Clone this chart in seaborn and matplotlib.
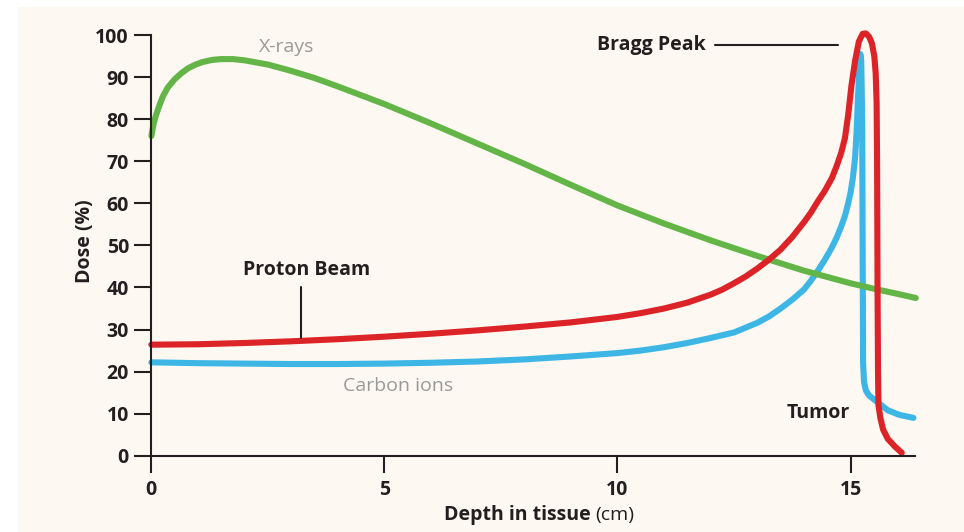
import pandas as pd
import matplotlib.pyplot as plt
import matplotlib.patches as mpatches
import seaborn as sns

# depth (cm) / dose (%)
xray_depth = [0, 0.05, 0.1, 0.18, 0.25, 0.35, 0.5, 0.65, 0.8, 0.95, 1.1, 1.3, 1.5, 1.75, 2.0,
              2.5, 3.0, 3.5, 4.0, 5.0, 6.0, 7.0, 8.0, 9.0, 10.0, 11.0, 12.0, 13.0, 14.0, 15.0,
              15.5, 16.0, 16.4]
xray_dose = [76, 79, 81, 83.5, 85.5, 87.5, 89.5, 91.0, 92.2, 93.0, 93.6, 94.1, 94.3, 94.3, 94.0,
             93.0, 91.5, 89.8, 87.8, 83.6, 79.0, 74.2, 69.4, 64.4, 59.5, 55.2, 51.2, 47.5, 44.0,
             41.0, 39.7, 38.5, 37.5]

proton_depth = [0, 1, 2, 3, 4, 5, 6, 7, 8, 9, 10, 10.5, 11, 11.5, 12, 12.25, 12.5, 12.75, 13,
                13.25, 13.5, 13.75, 14, 14.15, 14.3, 14.45, 14.6, 14.7, 14.8, 14.88, 14.95,
                15.02, 15.1, 15.18, 15.26, 15.33, 15.4, 15.46, 15.51, 15.54, 15.56, 15.57,
                15.58, 15.59, 15.6, 15.64, 15.7, 15.8, 15.95, 16.1]
proton_dose = [26.4, 26.5, 26.8, 27.2, 27.7, 28.3, 29.0, 29.8, 30.7, 31.7, 33.0, 33.9, 35.0, 36.4,
               38.3, 39.5, 41.0, 42.6, 44.5, 46.6, 49.0, 52.0, 55.5, 57.8, 60.5, 63.0, 66.0,
               68.8, 72.0, 75.5, 81.0, 88.0, 94.0, 98.5, 100.3, 100.4, 99.6, 98.0, 95.0, 91.0,
               84.0, 70.0, 40.0, 20.0, 12.0, 9.0, 6.2, 4.0, 2.2, 0.7]

carbon_depth = [0, 1, 2, 3, 4, 5, 6, 7, 8, 9, 10, 10.5, 11, 11.5, 12, 12.5, 13, 13.25, 13.5,
                13.75, 14, 14.15, 14.3, 14.45, 14.6, 14.7, 14.8, 14.88, 14.95, 15.0, 15.05,
                15.1, 15.13, 15.16, 15.19, 15.21, 15.23, 15.25, 15.26, 15.27, 15.29, 15.33,
                15.4, 15.57, 15.8, 16.05, 16.35]
carbon_dose = [22.2, 22.0, 21.9, 21.8, 21.8, 21.9, 22.1, 22.4, 22.9, 23.6, 24.4, 25.0, 25.8, 26.8,
               28.0, 29.3, 31.6, 33.1, 35.0, 37.1, 39.5, 41.6, 44.0, 46.6, 49.5, 51.8, 54.5,
               57.0, 60.0, 62.5, 66.0, 71.0, 77.0, 85.0, 92.0, 95.5, 94.0, 80.0, 50.0, 22.0,
               17.5, 15.5, 14.3, 12.8, 10.8, 9.7, 9.0]

x_ticks = [0, 5, 10, 15]
y_ticks = [0, 10, 20, 30, 40, 50, 60, 70, 80, 90, 100]

GREEN = '#64B547'
RED = '#DC2327'
BLUE = '#3DB6E6'
INK = '#231F20'
GREY = '#999999'
CREAM = '#FDF9F2'
FS = 14

sns.set_style('ticks')
plt.rcParams['font.family'] = ['Open Sans', 'DejaVu Sans']

fig = plt.figure(figsize=(9.64, 5.32), dpi=100)
fig.patch.set_facecolor('white')
fig.patches.append(mpatches.Rectangle((18 / 964, 0), 1, 1 - 7 / 532, transform=fig.transFigure,
                                      facecolor=CREAM, edgecolor='none', zorder=-10))
ax = fig.add_axes([0.157, 0.1434, 0.949 - 0.157, 0.934 - 0.1434])
ax.set_facecolor('none')

curves = [(carbon_depth, carbon_dose, BLUE), (xray_depth, xray_dose, GREEN),
          (proton_depth, proton_dose, RED)]
for depth, dose, col in curves:
    d = pd.DataFrame({'depth': depth, 'dose': dose})
    sns.lineplot(data=d, x='depth', y='dose', sort=False, estimator=None, color=col,
                 linewidth=4.4, ax=ax, clip_on=False, solid_capstyle='round',
                 solid_joinstyle='round')

ax.set_xlim(0, 16.38)
ax.set_ylim(0, 100)
ax.set_xticks(x_ticks)
ax.set_yticks(y_ticks)
ax.set_xticklabels([str(t) for t in x_ticks], fontsize=FS, fontweight='bold', color=INK)
ax.set_yticklabels([str(t) for t in y_ticks], fontsize=FS, fontweight='bold', color=INK)
ax.tick_params(axis='y', length=12.5, width=1.5, pad=3.6, color=INK)
ax.tick_params(axis='x', length=12.5, width=1.5, pad=5, color=INK)
for s in ['left', 'bottom']:
    ax.spines[s].set_linewidth(1.5)
    ax.spines[s].set_color(INK)
sns.despine(ax=ax)
ax.set_xlabel('')
ax.set_ylabel('')

# labels on the curves
ax.text(2.9, 97.2, 'X-rays', color=GREY, fontsize=FS, ha='center', va='center')
ax.text(5.29, 16.5, 'Carbon ions', color=GREY, fontsize=FS, ha='center', va='center')
ax.text(3.33, 44.2, 'Proton Beam', color=INK, fontsize=FS, fontweight='bold',
        ha='center', va='center')
ax.plot([3.22, 3.22], [28.0, 40.2], color=INK, lw=1.5)
ax.text(9.56, 97.6, 'Bragg Peak', color=INK, fontsize=FS, fontweight='bold',
        ha='left', va='center')
ax.plot([12.09, 14.73], [97.6, 97.6], color=INK, lw=1.5, clip_on=False)
ax.text(14.3, 10.2, 'Tumor', color=INK, fontsize=FS, fontweight='bold',
        ha='center', va='center')

fig.text(85 / 964, 1 - 241.5 / 532, 'Dose (%)', rotation=90, fontsize=FS, fontweight='bold',
         color=INK, ha='center', va='center')
fig.text(591 / 964, 1 - 520 / 532, 'Depth in tissue', fontsize=FS, fontweight='bold',
         color=INK, ha='right', va='baseline')
fig.text(595 / 964, 1 - 520 / 532, '(cm)', fontsize=FS, color=INK, ha='left', va='baseline')

fig.savefig('out.png', dpi=100, facecolor=fig.get_facecolor())
